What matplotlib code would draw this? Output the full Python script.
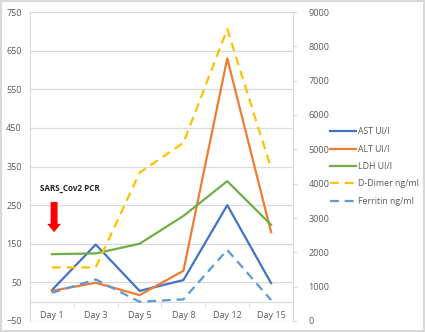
import numpy as np
import matplotlib
matplotlib.use('Agg')
import matplotlib.pyplot as plt
from matplotlib.patches import Rectangle

# Данные с графика.
days = ['Day 1', 'Day 3', 'Day 5', 'Day 8', 'Day 12', 'Day 15']
ast = [30, 148, 28, 56, 250, 48]
alt = [28, 49, 17, 80, 630, 180]
ldh = [123, 125, 150, 222, 312, 199]
d_dimer = [1560, 1560, 4320, 5190, 8500, 4450]
ferritin = [820, 1210, 560, 630, 2070, 610]

plt.rcParams['font.family'] = ['Open Sans', 'DejaVu Sans']
txt_col = '#595959'
grid_col = '#d9d9d9'

fig = plt.figure(figsize=(4.25, 3.32), dpi=100)
ax = fig.add_axes([30 / 425, 1 - 321 / 332, 263 / 425, 309 / 332])
ax2 = ax.twinx()

x = np.arange(len(days))
lw = 1.6
ax.plot(x, ast, color='#4472C4', lw=lw, label='AST UI/l', zorder=3)
ax.plot(x, alt, color='#ED7D31', lw=lw, label='ALT UI/l', zorder=3)
ax.plot(x, ldh, color='#70AD47', lw=lw, label='LDH UI/l', zorder=3)
l4, = ax2.plot(x, d_dimer, color='#FFC000', lw=lw, dashes=(4, 2.6), label='D-Dimer ng/ml')
l5, = ax2.plot(x, ferritin, color='#5B9BD5', lw=lw, dashes=(4, 2.6), label='Ferritin ng/ml')

# Левая ось.
ax.set_xlim(-0.5, 5.5)
ax.set_ylim(-50, 750)
ax.set_yticks(np.arange(-50, 751, 100))
ax.grid(axis='y', color=grid_col, lw=0.9)
ax.set_axisbelow(True)
ax.tick_params(axis='y', length=0, labelsize=6.5, labelcolor=txt_col, pad=6)
for s in ['top', 'right']:
    ax.spines[s].set_visible(False)
ax.spines['left'].set_color(grid_col)
ax.spines['bottom'].set_position(('data', 0))
ax.spines['bottom'].set_color(grid_col)
ax.set_xticks(x)
ax.set_xticklabels(days)
ax.set_xticks(np.arange(-0.5, 6, 1), minor=True)
ax.tick_params(axis='x', which='major', length=0, labelsize=6.5, labelcolor=txt_col, pad=7)
ax.tick_params(axis='x', which='minor', length=3.5, color=grid_col)

# Правая ось.
ax2.set_ylim(0, 9000)
ax2.set_yticks(np.arange(0, 9001, 1000))
ax2.tick_params(axis='y', length=3, color=grid_col, labelsize=6.5, labelcolor=txt_col, pad=8)
for s in ['top', 'left', 'bottom']:
    ax2.spines[s].set_visible(False)
ax2.spines['right'].set_color(grid_col)

# Подпись и стрелка.
ax.text(-0.27, 294, 'SARS_Cov2 PCR', fontsize=5.8, fontweight='bold', color='#262626', va='center')
ax.annotate('', xy=(0.05, 180), xytext=(0.05, 258),
            arrowprops=dict(arrowstyle='simple,head_width=1.0,head_length=0.6,tail_width=0.5',
                            color='#FF0000', lw=0, shrinkA=0, shrinkB=0))

h1, lab1 = ax.get_legend_handles_labels()
fig.legend(h1 + [l4, l5], lab1 + ['D-Dimer ng/ml', 'Ferritin ng/ml'],
           loc='upper left', bbox_to_anchor=(326 / 425, 1 - 123 / 332), frameon=False,
           fontsize=6.3, labelcolor=txt_col, handlelength=2.9, handletextpad=0.2,
           labelspacing=0.95, borderpad=0)

fig.add_artist(Rectangle((0.002, 0.003), 0.996, 0.994, transform=fig.transFigure,
                         fill=False, edgecolor='#d9d9d9', lw=1.5))

fig.savefig('out.png', dpi=100)
